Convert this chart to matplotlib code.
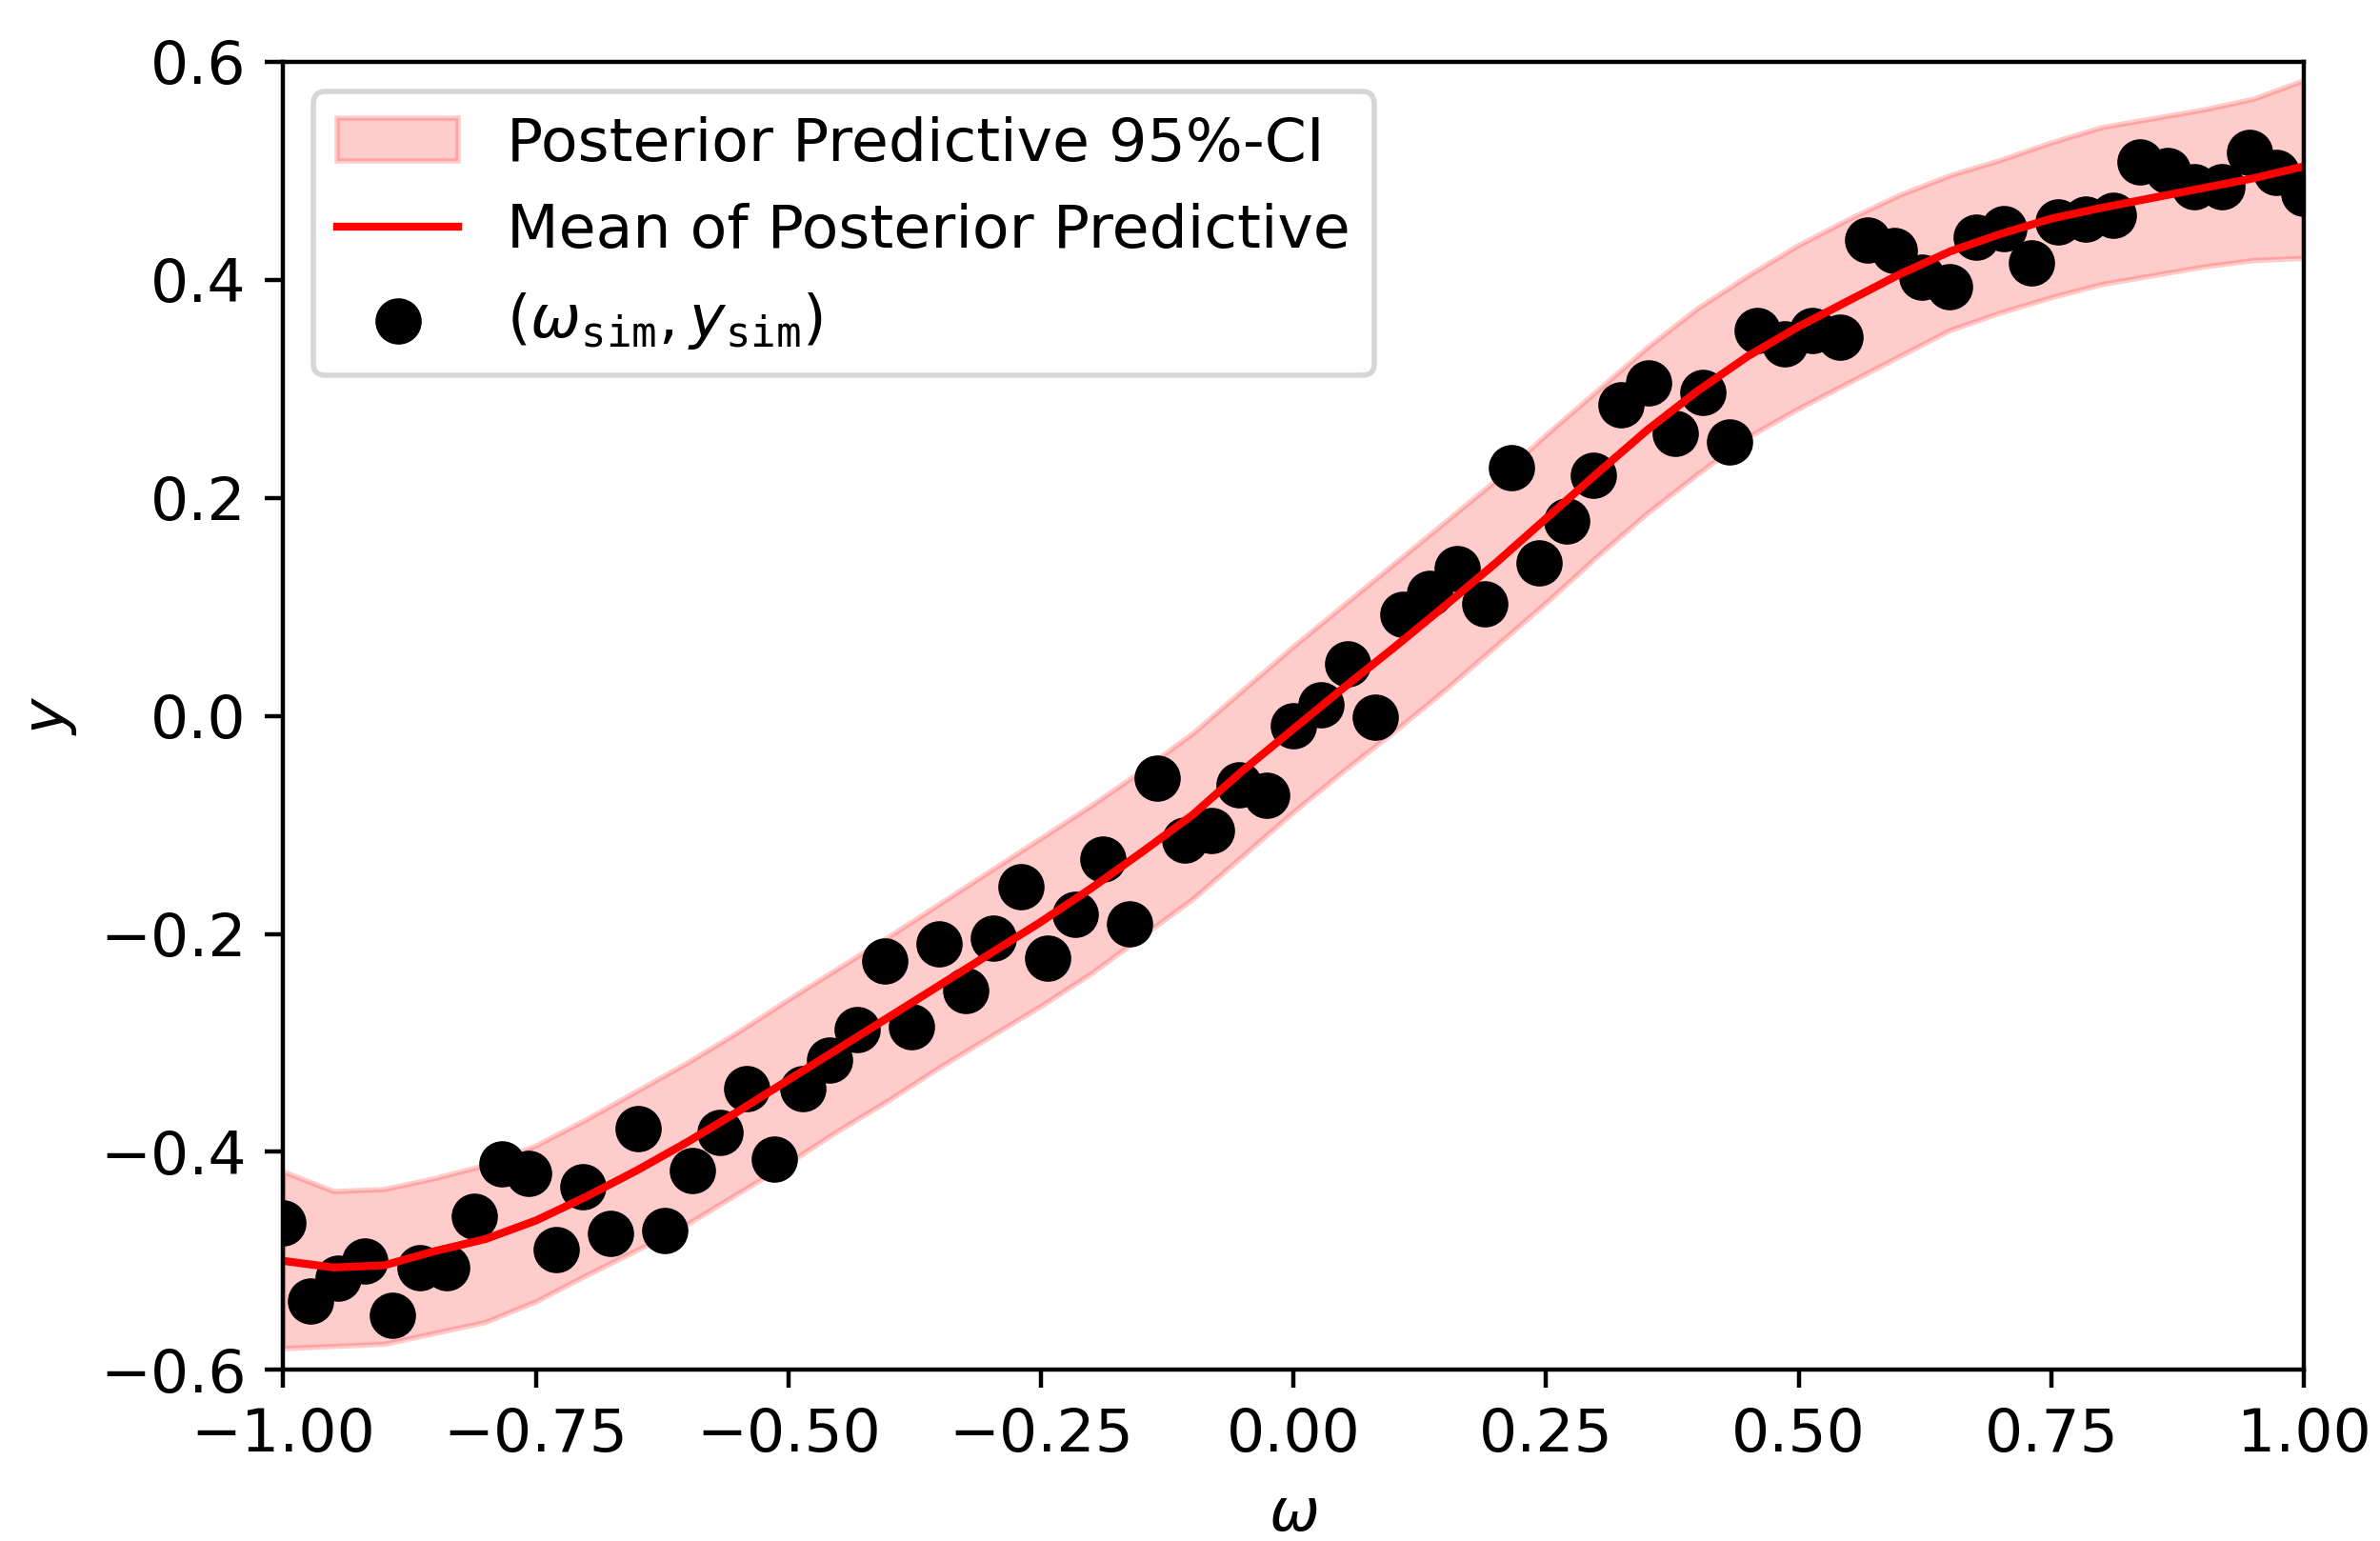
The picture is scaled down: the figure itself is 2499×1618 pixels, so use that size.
import numpy as np
import matplotlib
matplotlib.use('Agg')
import matplotlib.pyplot as plt

plt.rcParams['font.size'] = 11.4

#--- simulated observations (omega_sim, y_sim)
omega_sim = [-1.000, -0.973, -0.946, -0.919, -0.892, -0.865, -0.838, -0.811, -0.784, -0.757,
             -0.730, -0.703, -0.676, -0.649, -0.622, -0.595, -0.568, -0.541, -0.514, -0.486,
             -0.459, -0.432, -0.405, -0.378, -0.351, -0.324, -0.297, -0.270, -0.243, -0.216,
             -0.189, -0.162, -0.135, -0.108, -0.081, -0.054, -0.027, 0.000, 0.027, 0.054,
             0.081, 0.108, 0.135, 0.162, 0.189, 0.216, 0.243, 0.270, 0.297, 0.324,
             0.351, 0.378, 0.405, 0.432, 0.459, 0.486, 0.514, 0.541, 0.568, 0.595,
             0.622, 0.649, 0.676, 0.703, 0.730, 0.757, 0.784, 0.811, 0.838, 0.865,
             0.892, 0.919, 0.946, 0.973, 1.000]
y_sim = [-0.465, -0.537, -0.516, -0.500, -0.550, -0.506, -0.506, -0.459, -0.411, -0.420,
         -0.490, -0.432, -0.475, -0.379, -0.472, -0.417, -0.382, -0.342, -0.407, -0.342,
         -0.316, -0.288, -0.225, -0.285, -0.209, -0.252, -0.204, -0.157, -0.222, -0.182,
         -0.131, -0.191, -0.057, -0.114, -0.105, -0.063, -0.073, -0.009, 0.010, 0.048,
         -0.001, 0.093, 0.112, 0.135, 0.103, 0.228, 0.140, 0.179, 0.221, 0.285,
         0.305, 0.259, 0.297, 0.251, 0.353, 0.341, 0.353, 0.347, 0.436, 0.427,
         0.402, 0.394, 0.439, 0.447, 0.415, 0.453, 0.456, 0.459, 0.508, 0.500,
         0.485, 0.485, 0.517, 0.498, 0.479]

#--- posterior predictive: mean and 95%-CI bounds
omega_grid = [-1.00, -0.95, -0.90, -0.85, -0.80, -0.75, -0.70, -0.65, -0.60, -0.55,
              -0.50, -0.45, -0.40, -0.35, -0.30, -0.25, -0.20, -0.15, -0.10, -0.05,
              0.00, 0.05, 0.10, 0.15, 0.20, 0.25, 0.30, 0.35, 0.40, 0.45,
              0.50, 0.55, 0.60, 0.65, 0.70, 0.75, 0.80, 0.85, 0.90, 0.95, 1.00]
pp_mean = [-0.500, -0.506, -0.504, -0.491, -0.480, -0.463, -0.441, -0.417, -0.391, -0.363,
           -0.334, -0.305, -0.276, -0.247, -0.218, -0.189, -0.158, -0.125, -0.091, -0.050,
           -0.012, 0.026, 0.063, 0.101, 0.140, 0.181, 0.222, 0.262, 0.298, 0.330,
           0.357, 0.381, 0.405, 0.426, 0.442, 0.456, 0.466, 0.475, 0.484, 0.493, 0.504]
pp_upper = [-0.418, -0.436, -0.434, -0.424, -0.412, -0.394, -0.370, -0.344, -0.318, -0.290,
            -0.260, -0.231, -0.202, -0.172, -0.142, -0.112, -0.082, -0.050, -0.016, 0.024,
            0.064, 0.102, 0.140, 0.178, 0.216, 0.258, 0.298, 0.338, 0.374, 0.404,
            0.432, 0.456, 0.478, 0.496, 0.510, 0.526, 0.540, 0.548, 0.556, 0.566, 0.583]
pp_lower = [-0.580, -0.578, -0.576, -0.566, -0.556, -0.537, -0.513, -0.490, -0.466, -0.438,
            -0.410, -0.380, -0.352, -0.322, -0.294, -0.266, -0.236, -0.202, -0.168, -0.128,
            -0.088, -0.050, -0.014, 0.024, 0.064, 0.104, 0.146, 0.186, 0.222, 0.256,
            0.282, 0.306, 0.330, 0.354, 0.370, 0.384, 0.396, 0.404, 0.412, 0.418, 0.420]


fig, ax = plt.subplots(figsize=(6.2475, 4.045), dpi=400)
fig.subplots_adjust(left=0.119, right=0.968, top=0.960, bottom=0.111)

ax.fill_between(omega_grid, pp_lower, pp_upper, color='red', alpha=0.2,
                label='Posterior Predictive 95%-CI')
ax.plot(omega_grid, pp_mean, color='red', label='Mean of Posterior Predictive')
ax.scatter(omega_sim, y_sim, color='black', s=60,
           label=r'$(\omega_\mathtt{sim}, y_\mathtt{sim})$')

ax.set_xlim(-1, 1)
ax.set_ylim(-0.6, 0.6)
ax.set_xlabel(r'$\omega$')
ax.set_ylabel(r'$y$')
ax.legend(loc='upper left')

fig.savefig('out.png', dpi=400)
